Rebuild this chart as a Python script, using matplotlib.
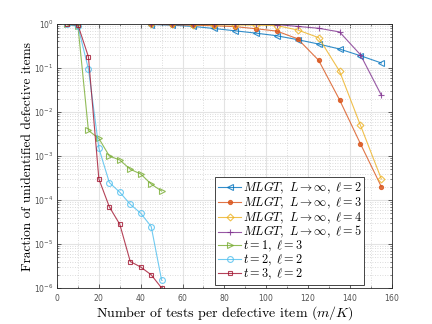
import matplotlib
matplotlib.use("Agg")
import matplotlib.pyplot as plt
from matplotlib.ticker import LogLocator, NullFormatter, FixedLocator

plt.rcParams['mathtext.fontset'] = 'cm'
plt.rcParams['axes.formatter.use_mathtext'] = True

# MLGT curves
x_mlgt = [45, 55, 65, 75, 85, 95, 105, 115, 125, 135, 145, 155]
y_l2 = [0.97, 0.94, 0.88, 0.79, 0.70, 0.62, 0.54, 0.44, 0.35, 0.27, 0.19, 0.13]
y_l3 = [0.98, 0.96, 0.94, 0.91, 0.87, 0.78, 0.69, 0.46, 0.15, 0.019, 0.0019, 0.0002]
y_l4 = [0.99, 0.98, 0.97, 0.96, 0.95, 0.94, 0.92, 0.73, 0.49, 0.085, 0.005, 0.0003]
y_l5 = [0.99, 0.99, 0.99, 0.99, 0.98, 0.98, 0.97, 0.88, 0.80, 0.66, 0.20, 0.024]

# t curves
x_t = [5, 10, 15, 20, 25, 30, 35, 40, 45, 50]
y_t1 = [0.98, 0.90, 0.0038, 0.0025, 0.0010, 0.00081, 0.00050, 0.00039, 0.00023, 0.00016]
y_t2 = [0.98, 0.88, 0.095, 0.0015, 0.00025, 0.00015, 0.00008, 0.00005, 0.000025, 0.0000015]
y_t3 = [0.98, 0.95, 0.18, 0.0003, 0.00007, 0.000028, 0.000004, 0.000003, 0.000002, 0.000001]

labels = [r'$MLGT,\ L\rightarrow\infty,\ \ell=2$',
          r'$MLGT,\ L\rightarrow\infty,\ \ell=3$',
          r'$MLGT,\ L\rightarrow\infty,\ \ell=4$',
          r'$MLGT,\ L\rightarrow\infty,\ \ell=5$',
          r'$t=1,\ \ell=3$',
          r'$t=2,\ \ell=2$',
          r'$t=3,\ \ell=2$']

colors = ['#0072BD', '#D95319', '#EDB120', '#7E2F8E', '#77AC30', '#4DBEEE', '#A2142F']

fig = plt.figure(figsize=(4.32, 3.24), dpi=100)
ax = fig.add_axes([0.132, 0.111, 0.775, 0.815])

series = [(x_mlgt, y_l2, '<', True), (x_mlgt, y_l3, 'o', False),
          (x_mlgt, y_l4, 'D', True), (x_mlgt, y_l5, '+', False),
          (x_t, y_t1, '>', True), (x_t, y_t2, 'o', True), (x_t, y_t3, 's', True)]
msz = [4, 3, 3.5, 5, 4, 4.2, 3.2]
for (xs, ys, m, hollow), c, lab, ms in zip(series, colors, labels, msz):
    ax.plot(xs, ys, color=c, marker=m, markersize=ms, linewidth=0.8,
            markerfacecolor='none' if hollow else c, markeredgecolor=c,
            markeredgewidth=0.8, label=lab, alpha=0.8)

ax.set_yscale('log')
ax.set_xlim(0, 160)
ax.set_ylim(1e-6, 1)
ax.set_xticks([0, 20, 40, 60, 80, 100, 120, 140, 160])
ax.yaxis.set_major_locator(LogLocator(base=10, numticks=10))
ax.yaxis.set_minor_locator(LogLocator(base=10, subs=range(2, 10), numticks=20))
ax.yaxis.set_minor_formatter(NullFormatter())
ax.xaxis.set_minor_locator(FixedLocator(list(range(0, 161, 10))))

ax.grid(True, which='major', color='#e3e3e3', linewidth=0.8)
ax.grid(True, which='minor', color='#d0d0d0', linewidth=0.6, linestyle=(0, (1, 2)))
ax.set_axisbelow(True)

for s in ax.spines.values():
    s.set_color('#262626')
    s.set_linewidth(0.6)
ax.tick_params(which='both', direction='in', top=True, right=True, colors='#262626',
               labelsize=5.5, labelcolor='#505050')
ax.tick_params(which='major', length=3, width=0.5, pad=2.5)
ax.tick_params(which='minor', length=1.5, width=0.4)
for lbl in ax.get_xticklabels() + ax.get_yticklabels():
    lbl.set_family('DejaVu Sans')

ax.set_xlabel(r'Number of tests per defective item $(m/K)$', family='cmr10', fontsize=10, labelpad=1)
ax.set_ylabel('Fraction of unidentified defective items', family='cmr10', fontsize=9.6, labelpad=0)

leg = ax.legend(loc='lower left', bbox_to_anchor=(0.472, 0.012), fontsize=8.8,
                fancybox=False, edgecolor='#262626', framealpha=1,
                handlelength=1.9, handletextpad=0.1, borderpad=0.25, labelspacing=-0.12,
                borderaxespad=0)
leg.get_frame().set_linewidth(0.6)

fig.savefig('out.png', dpi=100)
